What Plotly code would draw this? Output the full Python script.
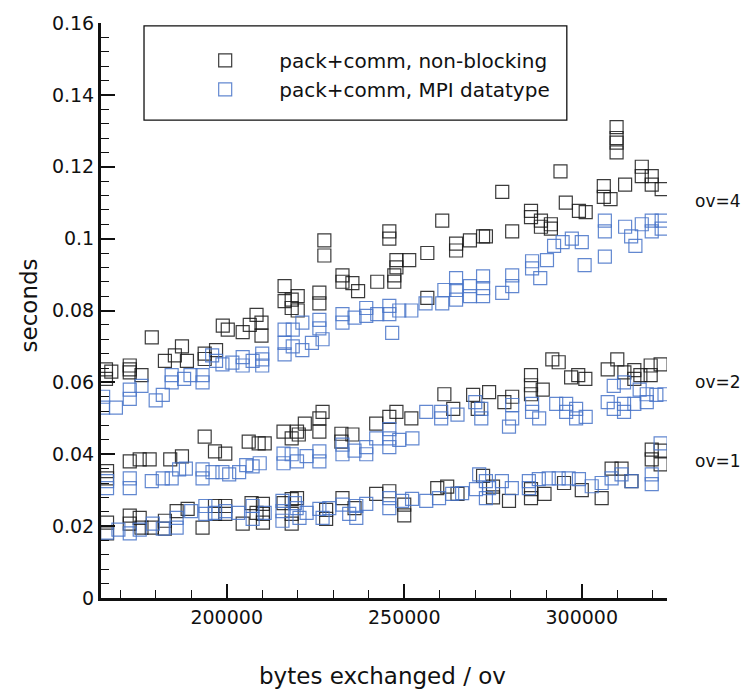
import plotly.graph_objects as go

# Timing samples: (bytes exchanged / ov, seconds)
nonblocking_ov4 = [
    (166000, 0.0636), (166000, 0.061), (167500, 0.063), (172700, 0.0647), (172700, 0.0636),
    (172700, 0.0628), (176000, 0.062), (178900, 0.0725), (182600, 0.066), (185400, 0.0675),
    (187400, 0.070), (188800, 0.066), (193800, 0.068), (193800, 0.0665), (197000, 0.069),
    (198900, 0.0758), (200300, 0.0747), (204500, 0.074), (206500, 0.076), (208400, 0.0788),
    (209800, 0.0766), (209800, 0.073), (216300, 0.0868), (216300, 0.0826), (218300, 0.0807),
    (218300, 0.083), (220000, 0.084), (220000, 0.080), (226100, 0.085), (226100, 0.082),
    (227500, 0.0995), (227500, 0.0953), (232600, 0.0898), (232600, 0.088), (235400, 0.0876),
    (237000, 0.0854), (242400, 0.088), (245800, 0.102), (245800, 0.100), (247800, 0.094),
    (247800, 0.092), (247200, 0.0898), (247200, 0.088), (251400, 0.094), (256500, 0.096),
    (256500, 0.0835), (260700, 0.105), (264600, 0.0986), (264600, 0.0967), (268500, 0.0995),
    (272200, 0.1006), (273000, 0.1006), (277600, 0.113), (280400, 0.102), (285700, 0.1077),
    (285700, 0.106), (288500, 0.105), (288500, 0.1033), (291300, 0.104), (291300, 0.1028),
    (294000, 0.1187), (295500, 0.110), (299200, 0.1077), (301100, 0.1074), (306200, 0.1146),
    (306200, 0.1116), (308100, 0.111), (309800, 0.131), (309800, 0.128), (309800, 0.1267),
    (309800, 0.124), (312200, 0.115), (316900, 0.120), (316900, 0.1174), (319700, 0.1174),
    (319700, 0.115), (322500, 0.1138),
]
datatype_ov4 = [
    (165200, 0.056), (165200, 0.053), (168800, 0.053), (172700, 0.058), (172700, 0.0554),
    (176000, 0.059), (180000, 0.055), (182000, 0.0565), (184500, 0.062), (184500, 0.060),
    (188000, 0.061), (189800, 0.062), (193200, 0.062), (193200, 0.060), (195900, 0.0675),
    (197000, 0.066), (198800, 0.065), (201600, 0.0655), (204500, 0.0647), (204500, 0.067),
    (207300, 0.066), (210000, 0.0664), (210000, 0.0647), (210000, 0.068), (216300, 0.0747),
    (216300, 0.071), (216300, 0.0678), (218600, 0.0747), (218600, 0.070), (221300, 0.069),
    (221300, 0.0766), (224000, 0.071), (226100, 0.0774), (226100, 0.075), (227000, 0.072),
    (232600, 0.079), (232600, 0.0766), (236000, 0.078), (239300, 0.0807), (239300, 0.0785),
    (242400, 0.079), (245800, 0.0813), (245800, 0.079), (246600, 0.0738), (248600, 0.080),
    (252000, 0.080), (256000, 0.082), (260700, 0.082), (261300, 0.0857), (264600, 0.089),
    (264600, 0.0857), (264600, 0.083), (268500, 0.0868), (268500, 0.084), (272200, 0.0895),
    (272200, 0.0862), (272200, 0.084), (277600, 0.0849), (280400, 0.0898), (280400, 0.0868),
    (286000, 0.0937), (286000, 0.0917), (288300, 0.089), (290200, 0.094), (292200, 0.098),
    (294600, 0.099), (297200, 0.100), (300000, 0.099), (300800, 0.0926), (306500, 0.105),
    (306500, 0.102), (306500, 0.095), (312200, 0.1033), (313900, 0.1006), (315100, 0.098),
    (316900, 0.104), (319700, 0.105), (319700, 0.102), (322500, 0.105), (322500, 0.1028),
]
nonblocking_ov2 = [
    (166300, 0.0353), (166300, 0.0333), (172700, 0.038), (175500, 0.0386), (178300, 0.0386),
    (184100, 0.0386), (187400, 0.0394), (193800, 0.0449), (196700, 0.0408), (199600, 0.0402),
    (206200, 0.0435), (209000, 0.043), (210700, 0.043), (216000, 0.0463), (218300, 0.0444),
    (219800, 0.0463), (220300, 0.0455), (222000, 0.0485), (226100, 0.050), (226100, 0.0463),
    (227000, 0.0518), (232300, 0.0457), (232300, 0.0435), (235400, 0.0455), (242100, 0.0485),
    (245800, 0.0504), (247800, 0.0518), (252000, 0.050), (261300, 0.0567), (263800, 0.0526),
    (269400, 0.0565), (270700, 0.0526), (273900, 0.0573), (278200, 0.0545), (280400, 0.056),
    (285700, 0.062), (285700, 0.0592), (285700, 0.0567), (289000, 0.058), (291700, 0.0664),
    (293500, 0.0656), (297000, 0.0614), (299000, 0.062), (301000, 0.061), (307300, 0.0636),
    (310000, 0.0664), (312000, 0.0628), (314800, 0.0634), (314800, 0.061), (316500, 0.062),
    (319400, 0.0647), (319400, 0.062), (322200, 0.065),
]
datatype_ov2 = [
    (166300, 0.0325), (166300, 0.0306), (172700, 0.0333), (172700, 0.0306), (178900, 0.0325),
    (182000, 0.0333), (184500, 0.0333), (186600, 0.0358), (188500, 0.036), (193200, 0.0358),
    (193200, 0.0333), (196000, 0.035), (198800, 0.035), (200700, 0.0344), (203500, 0.035),
    (205500, 0.037), (207300, 0.0366), (209300, 0.0375), (216000, 0.0402), (216000, 0.0375),
    (218300, 0.040), (219800, 0.038), (222500, 0.0395), (226100, 0.038), (226100, 0.0408),
    (232600, 0.040), (232600, 0.0427), (236000, 0.041), (239300, 0.040), (239300, 0.042),
    (242100, 0.0444), (245800, 0.0444), (245800, 0.047), (245800, 0.042), (248600, 0.044),
    (252300, 0.0444), (256200, 0.0518), (260400, 0.0518), (260400, 0.050), (265000, 0.051),
    (270000, 0.0545), (271700, 0.0526), (271700, 0.050), (279500, 0.0477), (280400, 0.0537),
    (280400, 0.050), (286000, 0.054), (286000, 0.0518), (288000, 0.050), (292800, 0.054),
    (295600, 0.054), (295600, 0.0518), (298400, 0.0526), (298400, 0.050), (301100, 0.0504),
    (307300, 0.0545), (309000, 0.0526), (309000, 0.059), (311900, 0.054), (311900, 0.0518),
    (311900, 0.060), (314800, 0.054), (316300, 0.058), (318300, 0.0567), (318300, 0.0545),
    (321000, 0.0565), (323300, 0.0567),
]
nonblocking_ov1 = [
    (166300, 0.021), (166300, 0.018), (172700, 0.0229), (172700, 0.0207), (175500, 0.0223),
    (176000, 0.0196), (178900, 0.0196), (182600, 0.0215), (182600, 0.0193), (185900, 0.0242),
    (189000, 0.0248), (193200, 0.0196), (196700, 0.0256), (196700, 0.0234), (199600, 0.0256),
    (199600, 0.0234), (204500, 0.0207), (207000, 0.0264), (208400, 0.0237), (210200, 0.0262),
    (210200, 0.0234), (210200, 0.021), (216000, 0.0264), (218300, 0.0275), (218300, 0.0234),
    (218300, 0.0207), (219800, 0.0278), (228000, 0.022), (228000, 0.0245), (232600, 0.0278),
    (236000, 0.025), (242100, 0.029), (245800, 0.0297), (250000, 0.026), (250000, 0.023),
    (259300, 0.0306), (262100, 0.031), (265000, 0.029), (272200, 0.034), (275000, 0.028),
    (275000, 0.031), (279500, 0.027), (285700, 0.0303), (285700, 0.0278), (289500, 0.029),
    (295000, 0.032), (300000, 0.030), (305600, 0.0278), (308400, 0.036), (311200, 0.036),
    (314000, 0.0325), (319700, 0.0413), (319700, 0.0386), (322200, 0.041), (322200, 0.0372),
]
datatype_ov1 = [
    (166300, 0.0182), (169500, 0.019), (172700, 0.018), (175500, 0.019), (179200, 0.0207),
    (182000, 0.0193), (185900, 0.0223), (185900, 0.0196), (190000, 0.0242), (194000, 0.0256),
    (194000, 0.0234), (196700, 0.0237), (199600, 0.0242), (203200, 0.0237), (207300, 0.0256),
    (207300, 0.022), (210700, 0.0237), (215700, 0.027), (215700, 0.0242), (215700, 0.0215),
    (219200, 0.0264), (219700, 0.025), (220500, 0.0223), (222500, 0.0237), (226100, 0.0248),
    (227000, 0.0223), (228900, 0.025), (232600, 0.026), (234500, 0.0234), (236500, 0.0256),
    (236500, 0.0223), (239300, 0.0262), (245800, 0.0278), (245800, 0.025), (249400, 0.027),
    (252200, 0.0276), (256200, 0.027), (259800, 0.0278), (263500, 0.029), (266300, 0.0292),
    (270200, 0.0303), (271100, 0.0344), (273000, 0.0325), (273900, 0.0306), (273000, 0.0278),
    (277500, 0.0325), (280300, 0.0306), (285100, 0.0325), (285100, 0.0306), (287900, 0.0331),
    (290700, 0.0333), (293500, 0.0333), (296300, 0.0333), (299200, 0.0331), (302800, 0.0311),
    (305600, 0.032), (308400, 0.0333), (311200, 0.0344), (314000, 0.0325), (319700, 0.0344),
    (319700, 0.0317), (322200, 0.043),
]

series_names = ["pack+comm, non-blocking", "pack+comm, MPI datatype"]
ov_labels = [("ov=4", 0.1105), ("ov=2", 0.060), ("ov=1", 0.038)]

FONT = "DejaVu Sans"
BLACK = "rgba(25,25,25,0.85)"
BLUE = "rgba(70,115,200,0.85)"

fig = go.Figure()

groups = [
    (nonblocking_ov4 + nonblocking_ov2 + nonblocking_ov1, series_names[0], BLACK),
    (datatype_ov4 + datatype_ov2 + datatype_ov1, series_names[1], BLUE),
]
for pts, name, col in groups:
    xs = [p[0] for p in pts]
    ys = [p[1] for p in pts]
    fig.add_trace(go.Scatter(
        x=xs, y=ys, mode="markers", name=name,
        marker=dict(symbol="square-open", size=13, color=col, line=dict(width=1.2, color=col)),
    ))

# legend frame
fig.add_shape(type="rect", xref="paper", yref="paper",
              x0=0.076, x1=0.823, y0=0.831, y1=0.995,
              line=dict(color="#111", width=1.3), fillcolor="rgba(0,0,0,0)")

for txt, yv in ov_labels:
    fig.add_annotation(text=txt, xref="paper", yref="y", x=1.09, y=yv,
                       xanchor="center", yanchor="middle",
                       showarrow=False, font=dict(family=FONT, size=17, color="#111"))

fig.add_annotation(text="bytes exchanged / ov", xref="paper", yref="paper",
                   x=0.497, y=-0.136, showarrow=False, xanchor="center", yanchor="middle",
                   font=dict(family=FONT, size=23, color="#111"))
fig.add_annotation(text="seconds", xref="paper", yref="paper", textangle=-90,
                   x=-0.127, y=0.509, showarrow=False, xanchor="center", yanchor="middle",
                   font=dict(family=FONT, size=23, color="#111"))

fig.update_layout(
    width=743, height=691,
    margin=dict(l=101, r=76, t=17, b=93),
    paper_bgcolor="white", plot_bgcolor="white",
    showlegend=True,
    legend=dict(x=0.124, y=0.969, xanchor="left", yanchor="top",
                bgcolor="rgba(0,0,0,0)", borderwidth=0, itemwidth=98,
                font=dict(family=FONT, size=20, color="#111")),
    font=dict(family=FONT, color="#111"),
)
fig.update_xaxes(
    range=[164600, 324000], showgrid=False, zeroline=False,
    showline=True, linecolor="#111", linewidth=3,
    ticks="inside", ticklen=14, tickwidth=2, tickcolor="#111",
    dtick=50000, tick0=0, tickformat="d", ticklabelstandoff=0,
    tickfont=dict(family=FONT, size=19, color="#111"),
    minor=dict(ticks="inside", ticklen=8, tickwidth=1, tickcolor="#111", dtick=10000, tick0=0),
)
fig.update_yaxes(
    range=[0, 0.16], showgrid=False, zeroline=False,
    showline=True, linecolor="#111", linewidth=3,
    ticks="inside", ticklen=14, tickwidth=2, tickcolor="#111",
    dtick=0.02, tick0=0, ticklabelstandoff=0,
    tickfont=dict(family=FONT, size=19, color="#111"),
    minor=dict(ticks="inside", ticklen=8, tickwidth=1, tickcolor="#111", dtick=0.004, tick0=0),
)

fig.write_html("out.html")
